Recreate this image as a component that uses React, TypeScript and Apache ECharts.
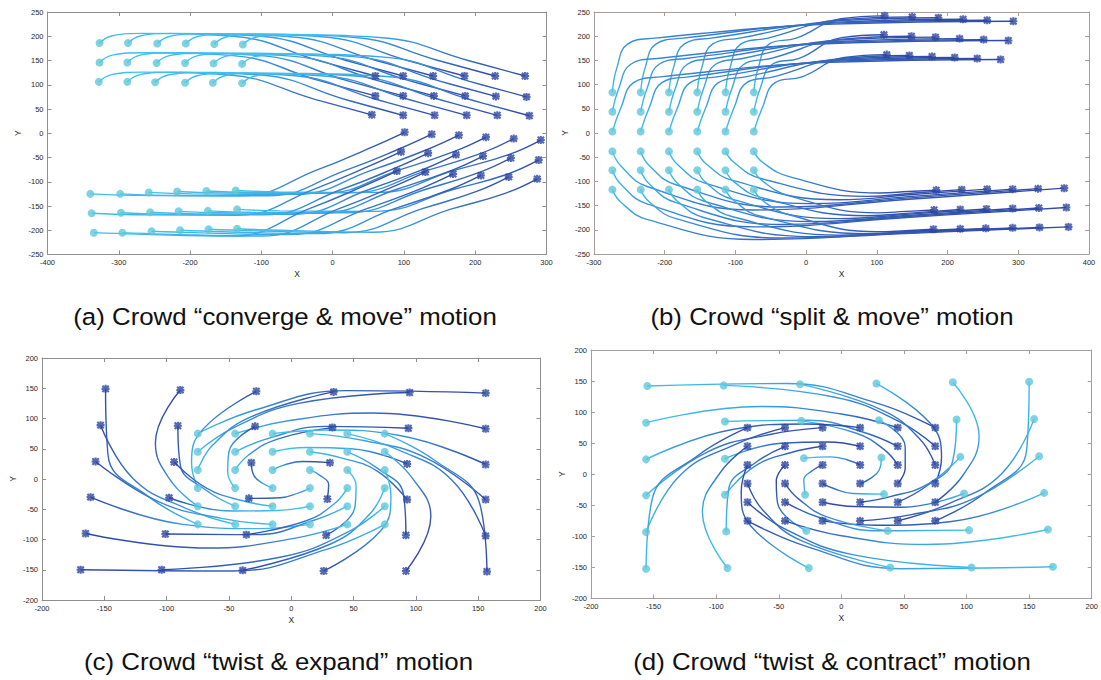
import React, { useEffect, useRef } from "react";
import * as echarts from "echarts";

// Each track: waypoints [x, y] from the start position (circle) to the end position (asterisk).

// (a) converge & move
const convergeTracks: number[][][] = [
  [[-327, 186], [-309, 201], [-267, 206], [-140, 200], [-20, 150], [60, 118]],
  [[-287, 186], [-269, 201], [-227, 206], [-101, 200], [19, 150], [99, 118]],
  [[-246, 185], [-228, 200], [-186, 205], [-59, 199], [61, 150], [141, 118]],
  [[-206, 185], [-188, 200], [-146, 205], [-15, 199], [105, 150], [185, 118]],
  [[-166, 184], [-148, 199], [-106, 204], [28, 198], [148, 150], [228, 118]],
  [[-126, 183], [-108, 198], [-66, 203], [70, 197], [190, 150], [270, 118]],
  [[-327, 146], [-309, 161], [-267, 166], [-140, 160], [-20, 109], [60, 77]],
  [[-288, 146], [-270, 161], [-228, 166], [-101, 160], [19, 109], [99, 77]],
  [[-247, 145], [-229, 160], [-187, 165], [-58, 159], [62, 109], [142, 77]],
  [[-207, 145], [-189, 160], [-147, 165], [-14, 159], [106, 109], [186, 77]],
  [[-167, 144], [-149, 159], [-107, 164], [29, 158], [149, 108], [229, 76]],
  [[-127, 143], [-109, 158], [-67, 163], [72, 157], [192, 107], [272, 75]],
  [[-328, 106], [-310, 121], [-268, 126], [-145, 120], [-25, 70], [55, 38]],
  [[-288, 106], [-270, 121], [-228, 126], [-101, 120], [19, 69], [99, 37]],
  [[-249, 105], [-231, 120], [-189, 125], [-57, 119], [63, 69], [143, 37]],
  [[-207, 104], [-189, 119], [-147, 124], [-12, 118], [108, 69], [188, 37]],
  [[-168, 104], [-150, 119], [-108, 124], [31, 118], [151, 69], [231, 37]],
  [[-127, 103], [-109, 118], [-67, 123], [76, 117], [196, 68], [276, 36]],
  [[-340, -125], [-280, -128], [-129, -129], [-19, -74], [56, -28], [101, 2]],
  [[-298, -125], [-238, -128], [-91, -129], [19, -76], [94, -32], [139, -2]],
  [[-258, -122], [-198, -125], [-53, -126], [57, -75], [132, -34], [177, -4]],
  [[-218, -120], [-158, -123], [-15, -124], [95, -75], [170, -38], [215, -8]],
  [[-177, -119], [-117, -122], [24, -123], [134, -76], [209, -41], [254, -11]],
  [[-136, -118], [-76, -121], [62, -122], [172, -76], [247, -44], [292, -14]],
  [[-338, -165], [-278, -168], [-134, -169], [-24, -114], [51, -68], [96, -38]],
  [[-297, -164], [-237, -167], [-96, -168], [14, -115], [89, -71], [134, -41]],
  [[-256, -163], [-196, -166], [-57, -167], [53, -115], [128, -74], [173, -44]],
  [[-216, -161], [-156, -164], [-19, -165], [91, -115], [166, -77], [211, -47]],
  [[-175, -160], [-115, -163], [20, -164], [130, -116], [205, -81], [250, -51]],
  [[-134, -157], [-74, -160], [59, -161], [169, -116], [244, -85], [289, -55]],
  [[-335, -205], [-275, -208], [-140, -212], [-30, -154], [45, -108], [90, -78]],
  [[-295, -205], [-235, -208], [-100, -212], [10, -155], [85, -110], [130, -80]],
  [[-254, -202], [-194, -205], [-61, -209], [49, -155], [124, -114], [169, -84]],
  [[-214, -200], [-154, -203], [-22, -207], [88, -155], [163, -117], [208, -87]],
  [[-174, -198], [-114, -201], [17, -205], [127, -155], [202, -120], [247, -90]],
  [[-134, -197], [-74, -200], [57, -204], [167, -156], [242, -124], [287, -94]],
];

// (b) split & move
const splitTracks: number[][][] = [
  [[-274, 84], [-268, 133], [-252, 184], [-214, 196], [40, 225], [293, 231]],
  [[-234, 84], [-228, 133], [-212, 184], [-174, 196], [41, 227], [256, 233]],
  [[-194, 84], [-188, 133], [-172, 184], [-134, 196], [44, 229], [222, 235]],
  [[-154, 84], [-148, 133], [-132, 184], [-94, 196], [47, 232], [187, 238]],
  [[-114, 84], [-108, 133], [-92, 184], [-54, 196], [48, 234], [150, 240]],
  [[-74, 84], [-68, 133], [-52, 184], [-14, 196], [49, 236], [111, 242]],
  [[-274, 44], [-265, 92], [-248, 142], [-210, 154], [38, 185], [286, 191]],
  [[-234, 44], [-225, 92], [-208, 142], [-170, 154], [41, 187], [251, 193]],
  [[-194, 44], [-185, 92], [-168, 142], [-130, 154], [44, 189], [217, 195]],
  [[-154, 44], [-145, 92], [-128, 142], [-90, 154], [47, 192], [183, 198]],
  [[-114, 44], [-105, 92], [-88, 142], [-50, 154], [50, 194], [149, 200]],
  [[-74, 44], [-65, 92], [-48, 142], [-10, 154], [50, 197], [110, 203]],
  [[-274, 3], [-262, 52], [-244, 104], [-206, 116], [35, 146], [275, 152]],
  [[-234, 3], [-222, 52], [-204, 104], [-166, 116], [38, 148], [242, 154]],
  [[-194, 3], [-182, 52], [-164, 104], [-126, 116], [42, 150], [210, 156]],
  [[-154, 3], [-142, 52], [-124, 104], [-86, 116], [46, 152], [178, 158]],
  [[-114, 3], [-102, 52], [-84, 104], [-46, 116], [50, 154], [146, 160]],
  [[-74, 3], [-62, 52], [-44, 104], [-6, 116], [54, 156], [114, 162]],
  [[-274, -38], [-262, -68], [-224, -111], [-74, -159], [146, -137], [365, -114]],
  [[-234, -38], [-222, -67], [-184, -107], [-34, -153], [147, -134], [328, -115]],
  [[-194, -38], [-182, -65], [-144, -103], [6, -146], [149, -131], [292, -116]],
  [[-154, -38], [-142, -63], [-104, -98], [46, -138], [151, -127], [256, -116]],
  [[-114, -38], [-102, -61], [-64, -94], [86, -131], [153, -124], [220, -117]],
  [[-74, -38], [-62, -60], [-24, -90], [104, -124], [144, -121], [184, -118]],
  [[-274, -77], [-262, -106], [-224, -147], [-74, -194], [147, -174], [368, -154]],
  [[-234, -77], [-222, -105], [-184, -144], [-34, -189], [148, -172], [329, -155]],
  [[-194, -77], [-182, -104], [-144, -141], [6, -183], [149, -170], [292, -156]],
  [[-154, -77], [-142, -102], [-104, -137], [46, -177], [151, -167], [255, -157]],
  [[-114, -77], [-102, -101], [-64, -133], [86, -171], [152, -165], [218, -158]],
  [[-74, -77], [-62, -99], [-24, -130], [101, -165], [141, -162], [181, -159]],
  [[-274, -117], [-262, -143], [-224, -179], [-74, -220], [149, -207], [371, -194]],
  [[-234, -117], [-222, -142], [-184, -177], [-34, -217], [148, -206], [330, -195]],
  [[-194, -117], [-182, -141], [-144, -175], [6, -214], [149, -205], [292, -196]],
  [[-154, -117], [-142, -141], [-104, -173], [46, -211], [150, -204], [254, -197]],
  [[-114, -117], [-102, -140], [-64, -172], [86, -208], [152, -203], [218, -198]],
  [[-74, -117], [-62, -139], [-24, -169], [100, -204], [140, -202], [180, -199]],
];

// (c) twist & expand
const expandTracks: number[][][] = [
  [[-75, 75], [-29, 114], [44, 146], [156, 142]],
  [[-75, 45], [-46, 85], [6, 125], [95, 143]],
  [[-75, 15], [-63, 56], [-32, 103], [34, 144]],
  [[-75, -15], [-80, 27], [-71, 82], [-28, 145]],
  [[-75, -45], [-97, -2], [-109, 60], [-89, 147]],
  [[-75, -75], [-114, -30], [-147, 39], [-149, 149]],
  [[-45, 75], [0, 97], [65, 109], [156, 83]],
  [[-45, 45], [-17, 68], [27, 87], [94, 84]],
  [[-45, 15], [-34, 40], [-11, 66], [33, 85]],
  [[-45, -15], [-51, 11], [-50, 45], [-29, 87]],
  [[-45, -45], [-68, -19], [-89, 23], [-91, 88]],
  [[-45, -75], [-85, -48], [-127, 1], [-153, 89]],
  [[-15, 75], [29, 81], [87, 72], [156, 24]],
  [[-15, 45], [12, 52], [48, 50], [93, 25]],
  [[-15, 15], [-6, 23], [9, 29], [31, 27]],
  [[-15, -15], [-23, -7], [-30, 6], [-32, 27]],
  [[-15, -45], [-39, -36], [-68, -15], [-94, 28]],
  [[-15, -75], [-56, -65], [-107, -37], [-157, 29]],
  [[15, 75], [57, 64], [108, 35], [156, -34]],
  [[15, 45], [40, 35], [69, 13], [93, -34]],
  [[15, 15], [23, 6], [30, -9], [29, -33]],
  [[15, -15], [6, -23], [-9, -31], [-34, -32]],
  [[15, -45], [-11, -52], [-48, -53], [-98, -31]],
  [[15, -75], [-28, -82], [-87, -75], [-161, -30]],
  [[45, 75], [86, 48], [129, -2], [156, -94]],
  [[45, 45], [69, 18], [90, -25], [92, -93]],
  [[45, 15], [52, -11], [51, -47], [28, -93]],
  [[45, -15], [35, -40], [12, -69], [-36, -92]],
  [[45, -45], [17, -69], [-28, -92], [-101, -91]],
  [[45, -75], [0, -99], [-67, -114], [-165, -90]],
  [[75, 75], [115, 31], [151, -39], [157, -153]],
  [[75, 45], [97, 2], [112, -62], [92, -152]],
  [[75, 15], [80, -28], [72, -85], [26, -152]],
  [[75, -15], [63, -58], [32, -107], [-39, -151]],
  [[75, -45], [46, -87], [-8, -129], [-104, -150]],
  [[75, -75], [29, -116], [-47, -152], [-169, -150]],
];

// (d) twist & contract
const contractTracks: number[][][] = [
  [[-155, 142], [-44, 146], [29, 114], [75, 75]],
  [[-94, 143], [-5, 124], [46, 85], [75, 45]],
  [[-33, 145], [33, 103], [63, 56], [75, 15]],
  [[28, 146], [71, 82], [80, 27], [75, -15]],
  [[89, 148], [110, 61], [97, -2], [75, -45]],
  [[150, 149], [148, 39], [114, -31], [75, -75]],
  [[-156, 83], [-65, 109], [0, 97], [45, 75]],
  [[-93, 85], [-26, 87], [17, 68], [45, 45]],
  [[-32, 86], [12, 66], [34, 40], [45, 15]],
  [[30, 87], [51, 44], [51, 10], [45, -15]],
  [[92, 88], [89, 22], [68, -19], [45, -45]],
  [[154, 89], [128, 1], [85, -48], [45, -75]],
  [[-156, 24], [-87, 72], [-28, 81], [15, 75]],
  [[-93, 25], [-48, 50], [-11, 52], [15, 45]],
  [[-30, 26], [-9, 28], [5, 23], [15, 15]],
  [[32, 27], [30, 6], [23, -7], [15, -15]],
  [[95, 28], [69, -16], [39, -36], [15, -45]],
  [[158, 29], [107, -38], [56, -65], [15, -75]],
  [[-156, -34], [-108, 35], [-57, 64], [-15, 75]],
  [[-93, -33], [-69, 13], [-40, 35], [-15, 45]],
  [[-29, -33], [-30, -9], [-23, 6], [-15, 15]],
  [[34, -32], [9, -31], [-6, -23], [-15, -15]],
  [[98, -31], [48, -53], [11, -52], [-15, -45]],
  [[162, -30], [88, -76], [28, -82], [-15, -75]],
  [[-156, -93], [-129, -2], [-86, 47], [-45, 75]],
  [[-92, -92], [-90, -24], [-69, 18], [-45, 45]],
  [[-28, -91], [-51, -46], [-52, -11], [-45, 15]],
  [[37, -91], [-11, -69], [-34, -40], [-45, -15]],
  [[102, -90], [29, -91], [-17, -70], [-45, -45]],
  [[165, -89], [68, -113], [0, -99], [-45, -75]],
  [[-156, -152], [-151, -39], [-114, 31], [-75, 75]],
  [[-91, -151], [-111, -61], [-97, 2], [-75, 45]],
  [[-26, -151], [-72, -84], [-80, -28], [-75, 15]],
  [[39, -150], [-32, -107], [-63, -57], [-75, -15]],
  [[104, -150], [8, -129], [-46, -87], [-75, -45]],
  [[169, -149], [48, -152], [-28, -116], [-75, -75]],
];

const captions = [
  "(a) Crowd \u201cconverge & move\u201d motion",
  "(b) Crowd \u201csplit & move\u201d motion",
  "(c) Crowd \u201ctwist & expand\u201d motion",
  "(d) Crowd \u201ctwist & contract\u201d motion",
];

const xRanges = [[-400, 300, 100], [-300, 400, 100], [-200, 200, 50], [-200, 200, 50]];
const yRanges = [[-250, 250, 50], [-250, 250, 50], [-200, 200, 50], [-200, 200, 50]];

const panelTracks = [convergeTracks, splitTracks, expandTracks, contractTracks];

// layout
const gridBoxes = [
  { left: 47.5, top: 12, width: 499, height: 242.5 },
  { left: 594, top: 12, width: 495, height: 242 },
  { left: 42, top: 358, width: 498.5, height: 242 },
  { left: 591, top: 350, width: 504, height: 248.5 },
];
const captionPos = [
  { x: 285, y: 317 },
  { x: 832, y: 317 },
  { x: 278.5, y: 662 },
  { x: 832, y: 662 },
];
const frameColors = ["#8e8e8e", "#a99c9c", "#8e8e8e", "#a99c9c"];

const START_COLOR = "#5ec7da";
const END_COLOR = "#2c45a0";
const LINE_LIGHT = "#3fc0ec";
const LINE_MID = "#3a93dc";
const LINE_DARK = "#3149a8";
const LABEL_FONT = "'Liberation Sans', Arial, sans-serif";

const ASTERISK =
  "path://M0 4.4H12V7.6H0Z M4.4 0H7.6V12H4.4Z M2.33 0.07L11.93 9.67L9.67 11.93L0.07 2.33Z M9.67 0.07L11.93 2.33L2.33 11.93L0.07 9.67Z";

// colour runs from the start of a track to its end, across the track's bounding box
function trackGradient(track: number[][]) {
  const xs = track.map((p) => p[0]);
  const ys = track.map((p) => p[1]);
  const minX = Math.min(...xs), maxX = Math.max(...xs);
  const minY = Math.min(...ys), maxY = Math.max(...ys);
  const w = maxX - minX || 1;
  const h = maxY - minY || 1;
  const s = track[0];
  const e = track[track.length - 1];
  return new echarts.graphic.LinearGradient(
    (s[0] - minX) / w,
    (maxY - s[1]) / h,
    (e[0] - minX) / w,
    (maxY - e[1]) / h,
    [
      { offset: 0, color: LINE_LIGHT },
      { offset: 0.35, color: LINE_MID },
      { offset: 1, color: LINE_DARK },
    ]
  );
}

function buildOption() {
  const grid = gridBoxes.map((g) => ({ ...g, containLabel: false }));
  const xAxis: any[] = [];
  const yAxis: any[] = [];
  const frameAxis = (i: number) => ({
    axisLine: { show: true, onZero: false, lineStyle: { color: frameColors[i], width: 1 } },
    axisTick: { show: true, inside: true, length: 4, lineStyle: { color: frameColors[i] } },
    splitLine: { show: false },
  });
  for (let i = 0; i < 4; i++) {
    xAxis.push({
      type: "value",
      gridIndex: i,
      position: "bottom",
      min: xRanges[i][0],
      max: xRanges[i][1],
      interval: xRanges[i][2],
      ...frameAxis(i),
      axisLabel: { fontSize: 7.5, color: "#262626", margin: 4, fontFamily: LABEL_FONT },
      name: "X",
      nameLocation: "middle",
      nameGap: 15,
      nameTextStyle: { fontSize: 8.5, color: "#262626", fontFamily: LABEL_FONT },
    });
    yAxis.push({
      type: "value",
      gridIndex: i,
      position: "left",
      min: yRanges[i][0],
      max: yRanges[i][1],
      interval: yRanges[i][2],
      ...frameAxis(i),
      axisLabel: { fontSize: 7.5, color: "#262626", margin: 4, fontFamily: LABEL_FONT },
      name: "Y",
      nameLocation: "middle",
      nameGap: 25,
      nameTextStyle: { fontSize: 8.5, color: "#262626", fontFamily: LABEL_FONT },
    });
  }
  for (let i = 0; i < 4; i++) {
    xAxis.push({
      type: "value",
      gridIndex: i,
      position: "top",
      min: xRanges[i][0],
      max: xRanges[i][1],
      interval: xRanges[i][2],
      ...frameAxis(i),
      axisLabel: { show: false },
    });
    yAxis.push({
      type: "value",
      gridIndex: i,
      position: "right",
      min: yRanges[i][0],
      max: yRanges[i][1],
      interval: yRanges[i][2],
      ...frameAxis(i),
      axisLabel: { show: false },
    });
  }

  const series: any[] = [];
  panelTracks.forEach((tracks, i) => {
    tracks.forEach((track) => {
      series.push({
        type: "line",
        xAxisIndex: i,
        yAxisIndex: i,
        data: track,
        smooth: 0.45,
        symbol: "none",
        silent: true,
        z: 2,
        lineStyle: { width: 1.4, color: trackGradient(track) },
      });
    });
    series.push({
      type: "scatter",
      xAxisIndex: i,
      yAxisIndex: i,
      data: tracks.map((t) => t[0]),
      symbol: "circle",
      symbolSize: 8,
      silent: true,
      z: 4,
      itemStyle: { color: START_COLOR },
    });
    series.push({
      type: "scatter",
      xAxisIndex: i,
      yAxisIndex: i,
      data: tracks.map((t) => t[t.length - 1]),
      symbol: ASTERISK,
      symbolSize: 8,
      silent: true,
      z: 5,
      itemStyle: { color: END_COLOR },
    });
  });

  const graphic = captions.map((text, i) => ({
    type: "text",
    x: captionPos[i].x,
    y: captionPos[i].y,
    scaleX: 1.1,
    silent: true,
    style: {
      text,
      fill: "#111",
      fontSize: 23.5,
      fontFamily: LABEL_FONT,
      align: "center",
      verticalAlign: "middle",
    },
  }));

  return {
    animation: false,
    backgroundColor: "#ffffff",
    grid,
    xAxis,
    yAxis,
    series,
    graphic,
  };
}

export default function App() {
  const ref = useRef<HTMLDivElement>(null);
  useEffect(() => {
    if (!ref.current) return;
    const chart = echarts.init(ref.current, undefined, { renderer: "svg" });
    chart.setOption(buildOption() as any);
    return () => chart.dispose();
  }, []);
  return (
    <div
      ref={ref}
      style={{ position: "fixed", left: 0, top: 0, width: 1101, height: 680, background: "#fff" }}
    />
  );
}
